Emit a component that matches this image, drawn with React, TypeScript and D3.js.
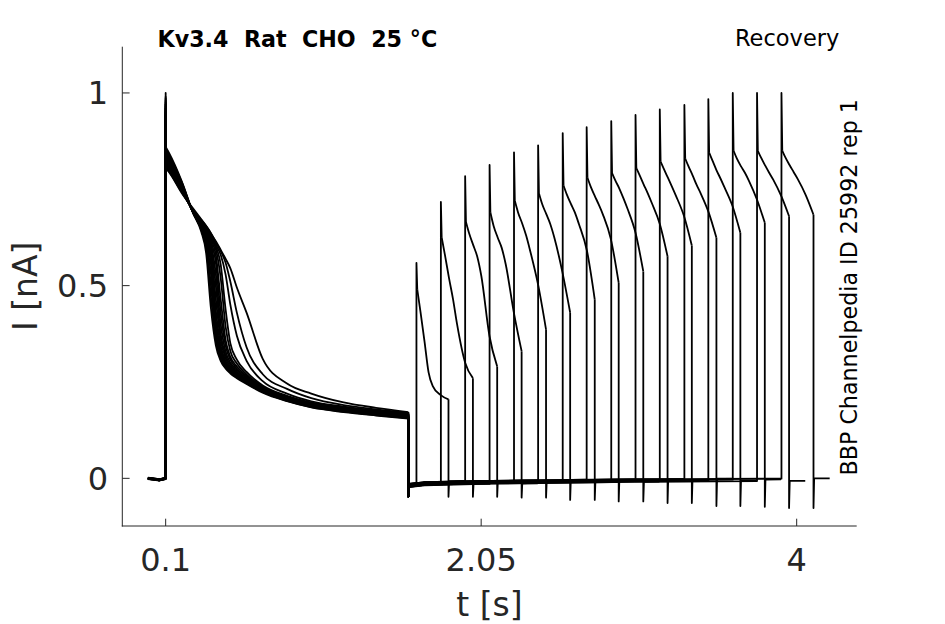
import React from 'react';
import * as d3 from 'd3';

// ---- axes ----
const xLim = [-0.168, 4.371];
const yLim = [-0.1237, 1.12];
const xTicks = [0.1, 2.05, 4];
const xTickLabels = ['0.1', '2.05', '4'];
const yTicks = [0, 0.5, 1];
const yTickLabels = ['0', '0.5', '1'];

// ---- texts ----
const titleText = 'Kv3.4  Rat  CHO  25 °C';
const protocolText = 'Recovery';
const sideText = 'BBP Channelpedia ID 25992 rep 1';
const xLabel = 't [s]';
const yLabel = 'I [nA]';

// ---- pre-pulse baseline (shared) ----
const preTimes = [-0.01, 0.03, 0.06, 0.1];
const preValues = [0.0, -0.002, -0.004, 0.0];

// ---- conditioning pulse (16 sweeps) ----
const condPeak = [1.0, 0.99, 0.985, 0.98, 0.975, 0.97, 0.97, 0.965, 0.96, 0.96, 0.955, 0.95, 0.95, 0.945, 0.94, 0.94];
const condTimes = [0.1, 0.12, 0.2, 0.27, 0.32, 0.35, 0.38, 0.41, 0.44, 0.47, 0.5, 0.54, 0.6, 0.7, 0.85, 1.0, 1.2, 1.4, 1.6];
const condS1 = [0.86, 0.845, 0.77, 0.688, 0.64, 0.585, 0.44, 0.345, 0.305, 0.285, 0.272, 0.26, 0.245, 0.222, 0.2, 0.184, 0.172, 0.163, 0.155];
const condS2 = [0.855, 0.84, 0.768, 0.688, 0.645, 0.6, 0.47, 0.36, 0.31, 0.288, 0.275, 0.262, 0.247, 0.224, 0.201, 0.185, 0.173, 0.164, 0.156];
const condS3 = [0.85, 0.835, 0.765, 0.689, 0.648, 0.61, 0.5, 0.375, 0.318, 0.292, 0.278, 0.264, 0.248, 0.225, 0.202, 0.186, 0.174, 0.165, 0.157];
const condS4 = [0.845, 0.83, 0.763, 0.689, 0.65, 0.618, 0.53, 0.39, 0.325, 0.296, 0.28, 0.266, 0.25, 0.226, 0.203, 0.187, 0.175, 0.166, 0.158];
const condS5 = [0.84, 0.825, 0.76, 0.69, 0.653, 0.625, 0.555, 0.41, 0.335, 0.3, 0.283, 0.268, 0.251, 0.227, 0.204, 0.188, 0.176, 0.167, 0.159];
const condS6 = [0.838, 0.823, 0.758, 0.69, 0.655, 0.63, 0.575, 0.435, 0.345, 0.305, 0.286, 0.27, 0.253, 0.228, 0.205, 0.189, 0.177, 0.168, 0.16];
const condS7 = [0.835, 0.82, 0.756, 0.69, 0.657, 0.634, 0.59, 0.465, 0.36, 0.312, 0.29, 0.273, 0.255, 0.229, 0.206, 0.19, 0.178, 0.169, 0.161];
const condS8 = [0.832, 0.818, 0.755, 0.691, 0.658, 0.637, 0.6, 0.5, 0.375, 0.32, 0.295, 0.276, 0.257, 0.23, 0.207, 0.191, 0.179, 0.17, 0.162];
const condS9 = [0.83, 0.815, 0.753, 0.691, 0.66, 0.64, 0.608, 0.53, 0.4, 0.33, 0.3, 0.28, 0.26, 0.232, 0.208, 0.192, 0.18, 0.171, 0.163];
const condS10 = [0.826, 0.812, 0.752, 0.692, 0.661, 0.642, 0.615, 0.56, 0.43, 0.345, 0.308, 0.285, 0.263, 0.234, 0.209, 0.193, 0.181, 0.172, 0.164];
const condS11 = [0.823, 0.81, 0.75, 0.692, 0.662, 0.644, 0.62, 0.58, 0.465, 0.36, 0.315, 0.29, 0.266, 0.236, 0.21, 0.194, 0.182, 0.173, 0.165];
const condS12 = [0.82, 0.807, 0.748, 0.693, 0.664, 0.646, 0.624, 0.595, 0.52, 0.395, 0.33, 0.298, 0.27, 0.238, 0.212, 0.195, 0.183, 0.174, 0.166];
const condS13 = [0.816, 0.804, 0.746, 0.694, 0.665, 0.648, 0.628, 0.602, 0.555, 0.44, 0.35, 0.308, 0.276, 0.241, 0.214, 0.197, 0.184, 0.175, 0.167];
const condS14 = [0.812, 0.8, 0.744, 0.695, 0.667, 0.65, 0.632, 0.606, 0.58, 0.53, 0.45, 0.37, 0.305, 0.252, 0.22, 0.2, 0.186, 0.176, 0.168];
const condS15 = [0.808, 0.797, 0.742, 0.697, 0.67, 0.655, 0.636, 0.612, 0.59, 0.56, 0.51, 0.43, 0.34, 0.27, 0.232, 0.208, 0.19, 0.179, 0.17];
const condS16 = [0.805, 0.795, 0.74, 0.7, 0.672, 0.655, 0.635, 0.615, 0.593, 0.57, 0.545, 0.495, 0.43, 0.31, 0.246, 0.22, 0.197, 0.183, 0.172];
const condSweeps = [condS1, condS2, condS3, condS4, condS5, condS6, condS7, condS8, condS9, condS10, condS11, condS12, condS13, condS14, condS15, condS16];
const condEnd = 1.6;
const condTip = -0.047;

// ---- baseline after the conditioning pulse ----
const baseTimes = [1.604, 1.7, 2.0, 3.0, 4.22];
const baseValues = [-0.018, -0.013, -0.01, -0.005, -0.002];
const sweepOffsets = [0.004, -0.003, 0.002, -0.005, 0.0, 0.003, -0.002, 0.001, -0.004, 0.002, -0.001, 0.003, -0.003, 0.0, -0.004, 0.002];

// ---- test pulses (one per sweep) ----
const testStarts = [1.65, 1.801, 1.951, 2.102, 2.253, 2.402, 2.554, 2.702, 2.854, 3.004, 3.154, 3.306, 3.454, 3.605, 3.755, 3.906];
const testPeaks = [0.559, 0.717, 0.784, 0.813, 0.846, 0.864, 0.896, 0.911, 0.927, 0.943, 0.957, 0.969, 0.984, 1.0, 1.0, 1.0];
const testOffsets = [0.005, 0.025, 0.05, 0.075, 0.1, 0.15, 0.198];
const testP1 = [0.49, 0.432, 0.355, 0.275, 0.24, 0.216, 0.205];
const testP2 = [0.625, 0.58, 0.52, 0.465, 0.4, 0.3, 0.26];
const testP3 = [0.665, 0.635, 0.605, 0.575, 0.525, 0.37, 0.29];
const testP4 = [0.69, 0.655, 0.625, 0.598, 0.555, 0.43, 0.33];
const testP5 = [0.72, 0.69, 0.662, 0.63, 0.59, 0.5, 0.386];
const testP6 = [0.74, 0.712, 0.686, 0.66, 0.625, 0.535, 0.43];
const testP7 = [0.76, 0.737, 0.713, 0.69, 0.66, 0.59, 0.464];
const testP8 = [0.78, 0.757, 0.733, 0.71, 0.685, 0.62, 0.507];
const testP9 = [0.792, 0.773, 0.752, 0.727, 0.7, 0.637, 0.537];
const testP10 = [0.805, 0.787, 0.763, 0.74, 0.715, 0.66, 0.576];
const testP11 = [0.822, 0.803, 0.78, 0.757, 0.733, 0.68, 0.604];
const testP12 = [0.83, 0.81, 0.787, 0.762, 0.74, 0.69, 0.624];
const testP13 = [0.845, 0.825, 0.8, 0.778, 0.755, 0.706, 0.637];
const testP14 = [0.85, 0.83, 0.81, 0.793, 0.772, 0.723, 0.663];
const testP15 = [0.85, 0.832, 0.812, 0.793, 0.775, 0.732, 0.68];
const testP16 = [0.85, 0.832, 0.813, 0.795, 0.777, 0.735, 0.684];
const testDecay = [testP1, testP2, testP3, testP4, testP5, testP6, testP7, testP8, testP9, testP10, testP11, testP12, testP13, testP14, testP15, testP16];
const testTips = [-0.048, -0.048, -0.048, -0.05, -0.05, -0.056, -0.056, -0.06, -0.06, -0.064, -0.064, -0.072, -0.072, -0.074, -0.077, -0.077];
const tailDuration = 0.1;

const W = 945;
const H = 624;
const plotLeft = 122.3;
const plotRight = 856.7;
const plotTop = 46.7;
const plotBottom = 526;
const axisColor = '#262626';
const font = 'DejaVu Sans, sans-serif';

type P = [number, number];

export default function App() {
  const x = d3.scaleLinear().domain(xLim).range([plotLeft, plotRight]);
  const y = d3.scaleLinear().domain(yLim).range([plotBottom, plotTop]);
  const lin = d3.line<P>().x((d) => x(d[0])).y((d) => y(d[1]));
  const mono = d3
    .line<P>()
    .x((d) => x(d[0]))
    .y((d) => y(d[1]))
    .curve(d3.curveMonotoneX);
  const base = d3.scaleLinear().domain(baseTimes).range(baseValues).clamp(true);

  const paths: string[] = [];
  condSweeps.forEach((cond, i) => {
    const off = sweepOffsets[i];
    const bl = (t: number) => base(t) + off;
    const withBase = (t0: number, t1: number): P[] => {
      const pts: P[] = [[t0, bl(t0)]];
      baseTimes.forEach((bt) => {
        if (bt > t0 && bt < t1) pts.push([bt, bl(bt)]);
      });
      pts.push([t1, bl(t1)]);
      return pts;
    };
    const a: P[] = preTimes.map((t, k) => [t, preValues[k] + off * 0.4] as P);
    a.push([condTimes[0], condPeak[i]]);
    a.push([condTimes[0], cond[0]]);
    paths.push(lin(a) || '');
    paths.push(mono(condTimes.map((t, k) => [t, cond[k]] as P)) || '');
    const s = testStarts[i];
    const dec = testDecay[i];
    const c: P[] = [[condEnd, cond[cond.length - 1]], [condEnd, condTip]];
    c.push(...withBase(condEnd + 0.004, s));
    c.push([s, testPeaks[i]]);
    c.push([s + testOffsets[0], dec[0]]);
    paths.push(lin(c) || '');
    paths.push(mono(testOffsets.map((o, k) => [s + o, dec[k]] as P)) || '');
    const e = s + testOffsets[testOffsets.length - 1];
    const t: P[] = [[e, dec[dec.length - 1]], [e, testTips[i]]];
    t.push(...withBase(e + 0.004, e + tailDuration));
    paths.push(lin(t) || '');
  });

  return (
    <svg
      width={W}
      height={H}
      viewBox={`0 0 ${W} ${H}`}
      style={{ position: 'absolute', left: 0, top: 0, background: '#fff' }}
    >
      <rect x={0} y={0} width={W} height={H} fill="#fff" />
      <g fill="none" stroke="#000" strokeWidth={1.8} strokeLinejoin="round">
        {paths.map((d, k) => (
          <path key={k} d={d} />
        ))}
      </g>
      <g stroke={axisColor} strokeWidth={1} fill="none">
        <line x1={plotLeft} y1={plotTop} x2={plotLeft} y2={plotBottom + 0.5} />
        <line x1={plotLeft - 0.5} y1={plotBottom} x2={plotRight} y2={plotBottom} />
        {xTicks.map((t) => (
          <line key={'xt' + t} x1={x(t)} x2={x(t)} y1={plotBottom} y2={plotBottom - 7.3} />
        ))}
        {yTicks.map((t) => (
          <line key={'yt' + t} x1={plotLeft} x2={plotLeft + 7.3} y1={y(t)} y2={y(t)} />
        ))}
      </g>
      <g fill={axisColor} fontFamily={font} fontSize={32}>
        {xTicks.map((t, k) => (
          <text key={'xl' + t} x={x(t)} y={571} textAnchor="middle">
            {xTickLabels[k]}
          </text>
        ))}
        {yTicks.map((t, k) => (
          <text key={'yl' + t} x={108} y={y(t) + 11.5} textAnchor="end">
            {yTickLabels[k]}
          </text>
        ))}
      </g>
      <text
        x={(plotLeft + plotRight) / 2}
        y={616}
        textAnchor="middle"
        fontFamily={font}
        fontSize={33}
        fill={axisColor}
      >
        {xLabel}
      </text>
      <text
        transform={`translate(37, ${(plotTop + plotBottom) / 2}) rotate(-90)`}
        textAnchor="middle"
        fontFamily={font}
        fontSize={33}
        fill={axisColor}
      >
        {yLabel}
      </text>
      <text x={157.5} y={46.7} fontFamily={font} fontSize={22.2} fontWeight="bold" fill="#000" style={{ whiteSpace: 'pre' }}>
        {titleText}
      </text>
      <text x={735} y={46} fontFamily={font} fontSize={22.5} fill="#000">
        {protocolText}
      </text>
      <text
        transform="translate(857, 475.5) rotate(-90)"
        fontFamily={font}
        fontSize={22.2}
        fill="#000"
      >
        {sideText}
      </text>
    </svg>
  );
}
